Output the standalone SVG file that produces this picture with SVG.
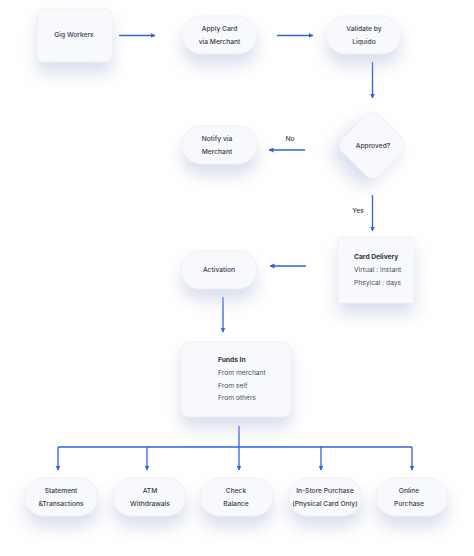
<svg xmlns="http://www.w3.org/2000/svg" width="474" height="556" viewBox="0 0 474 556">
<defs>
<filter id="sh" x="-50%" y="-50%" width="200%" height="230%">
<feDropShadow dx="0" dy="11" stdDeviation="8" flood-color="#b6bfdb" flood-opacity="0.5"/>
</filter>
<marker id="ah" viewBox="0 0 10 10" refX="9" refY="5" markerWidth="5" markerHeight="5" orient="auto" markerUnits="userSpaceOnUse">
<path d="M0,0 L10,5 L0,10 z" fill="#2f5fe3"/>
</marker>
</defs>
<style>
.n{fill:#f8f9fc;stroke:#eceef5;stroke-width:0.8;filter:url(#sh)}
.t{font-family:Inter,"Noto Sans",sans-serif;font-size:6.7px;font-weight:500;fill:#3b4050;text-anchor:middle;dominant-baseline:central}
.l{font-family:Inter,"Noto Sans",sans-serif;font-size:6.7px;font-weight:400;fill:#4a5060;dominant-baseline:central}
.b{font-weight:700;fill:#2e3342}
.c{fill:none;stroke:#2f5fe3;stroke-width:1.3}
</style>
<rect width="474" height="556" fill="#ffffff"/>
<g id="connectors">
<line class="c" x1="119" y1="35.5" x2="155" y2="35.5" marker-end="url(#ah)"/>
<line class="c" x1="277" y1="35.5" x2="313" y2="35.5" marker-end="url(#ah)"/>
<line class="c" x1="372.5" y1="62" x2="372.5" y2="98" marker-end="url(#ah)"/>
<line class="c" x1="305" y1="150" x2="269" y2="150" marker-end="url(#ah)"/>
<text class="t" x="290" y="139">No</text>
<line class="c" x1="372.5" y1="195" x2="372.5" y2="231" marker-end="url(#ah)"/>
<text class="t" x="358" y="211">Yes</text>
<line class="c" x1="306" y1="266" x2="270" y2="266" marker-end="url(#ah)"/>
<line class="c" x1="223" y1="297" x2="223" y2="332" marker-end="url(#ah)"/>
<polyline class="c" points="239,426 239,447"/>
<line class="c" x1="58" y1="447" x2="412" y2="447"/>
<line class="c" x1="58" y1="447" x2="58" y2="470" marker-end="url(#ah)"/>
<line class="c" x1="147" y1="447" x2="147" y2="470" marker-end="url(#ah)"/>
<line class="c" x1="239" y1="447" x2="239" y2="470" marker-end="url(#ah)"/>
<line class="c" x1="321" y1="447" x2="321" y2="470" marker-end="url(#ah)"/>
<line class="c" x1="412" y1="447" x2="412" y2="470" marker-end="url(#ah)"/>
</g>
<g id="gig-workers">
<rect class="n" x="37" y="9" width="75" height="53" rx="6"/>
<text class="t" x="74" y="35">Gig Workers</text>
</g>
<g id="apply-card">
<rect class="n" x="182" y="16" width="75" height="38" rx="19"/>
<text class="t" x="219.5" y="29">Apply Card</text>
<text class="t" x="219.5" y="42">via Merchant</text>
</g>
<g id="validate">
<rect class="n" x="326" y="16" width="75" height="38" rx="19"/>
<text class="t" x="364" y="29">Validate by</text>
<text class="t" x="364" y="42">Liquido</text>
</g>
<g id="approved">
<rect class="n" x="346.5" y="119.5" width="52" height="52" rx="9" transform="rotate(45 372.5 145.5)"/>
<text class="t" x="373" y="145.5">Approved?</text>
</g>
<g id="notify">
<rect class="n" x="182" y="126" width="75" height="38" rx="19"/>
<text class="t" x="217" y="139">Notify via</text>
<text class="t" x="217" y="152">Merchant</text>
</g>
<g id="card-delivery">
<rect class="n" x="338" y="237" width="76" height="66" rx="2"/>
<text class="l b" x="354" y="257">Card Delivery</text>
<text class="l" x="354" y="270">Virtual : instant</text>
<text class="l" x="354" y="283">Phsyical : days</text>
</g>
<g id="activation">
<rect class="n" x="181" y="251" width="76" height="38" rx="19"/>
<text class="t" x="219" y="270">Activation</text>
</g>
<g id="funds-in">
<rect class="n" x="181" y="342" width="110" height="75" rx="8"/>
<text class="l b" x="218" y="360">Funds In</text>
<text class="l" x="218" y="373">From merchant</text>
<text class="l" x="218" y="386">From self</text>
<text class="l" x="218" y="398">From others</text>
</g>
<g id="statement">
<rect class="n" x="25" y="478" width="73" height="38" rx="19"/>
<text class="t" x="61" y="491">Statement</text>
<text class="t" x="61" y="503.5">&amp;Transactions</text>
</g>
<g id="atm">
<rect class="n" x="113" y="478" width="73" height="38" rx="19"/>
<text class="t" x="150" y="491">ATM</text>
<text class="t" x="150" y="503.5">Withdrawals</text>
</g>
<g id="check-balance">
<rect class="n" x="200" y="478" width="73" height="38" rx="19"/>
<text class="t" x="236" y="491">Check</text>
<text class="t" x="236" y="503.5">Balance</text>
</g>
<g id="in-store">
<rect class="n" x="289" y="478" width="73" height="38" rx="19"/>
<text class="t" x="325" y="491">In-Store Purchase</text>
<text class="t" x="325" y="503.5">(Physical Card Only)</text>
</g>
<g id="online">
<rect class="n" x="376" y="478" width="72" height="38" rx="19"/>
<text class="t" x="409" y="491">Online</text>
<text class="t" x="409" y="503.5">Purchase</text>
</g>
</svg>
